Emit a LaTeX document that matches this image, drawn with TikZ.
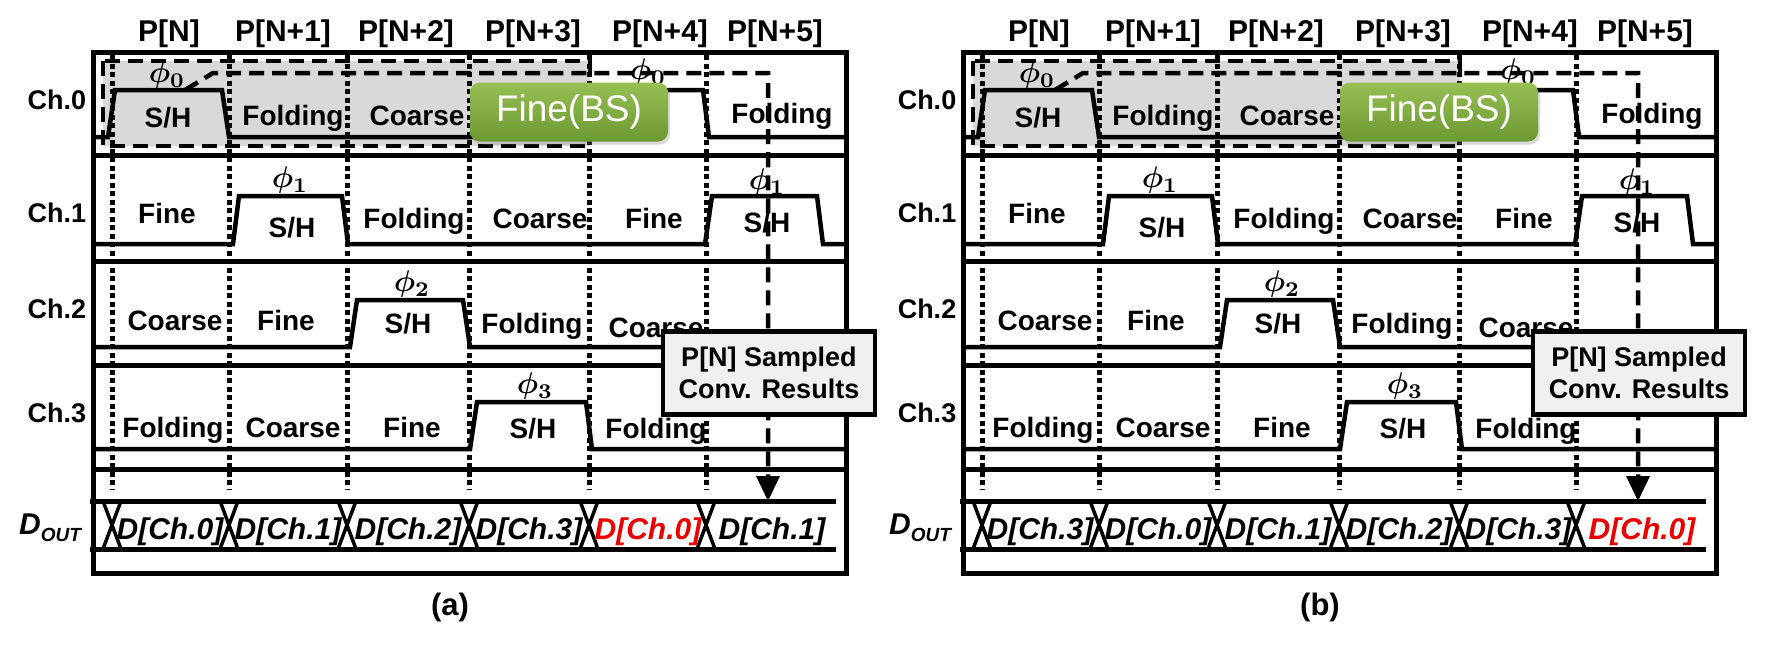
\documentclass[tikz,border=0pt]{standalone}
\usepackage{fontspec}
\setmainfont{Liberation Sans}
\usetikzlibrary{shadows}
\definecolor{shadegrey}{RGB}{217,217,217}
\definecolor{greentop}{RGB}{150,192,84}
\definecolor{greenbot}{RGB}{108,152,50}
\definecolor{boxgrey}{RGB}{240,240,240}
\definecolor{outred}{RGB}{235,0,0}
\tikzset{
  frame/.style={line width=5pt},
  sig/.style={line width=4.5pt, line join=miter},
  dotv/.style={line width=5pt, dash pattern=on 5pt off 3.5pt},
  dsh/.style={line width=4.5pt, dash pattern=on 15pt off 8pt},
  xcross/.style={line width=3.5pt},
  lbl/.style={font=\fontsize{28}{30}\selectfont\bfseries, inner sep=0pt, text height=20pt, text depth=0pt},
  chl/.style={font=\fontsize{27}{30}\selectfont\bfseries, inner sep=0pt, text height=19.5pt, text depth=0pt},
  hdr/.style={font=\fontsize{30}{32}\selectfont\bfseries, inner sep=0pt, text height=21.5pt, text depth=0pt},
  dlbl/.style={font=\fontsize{30}{32}\selectfont\bfseries\itshape, inner sep=0pt, text height=21.5pt, text depth=0pt},
  phil/.style={scale=3, inner sep=0pt, font=\boldmath},
  capl/.style={font=\fontsize{31}{33}\selectfont\bfseries, inner sep=0pt},
  finebs/.style={rounded corners=10pt, top color=greentop, bottom color=greenbot,
    draw=none, minimum width=198pt, minimum height=59pt, inner sep=0pt,
    text=white, font=\fontsize{37}{40}\selectfont,
    drop shadow={opacity=0.3, shadow xshift=2pt, shadow yshift=-3pt}},
  sampled/.style={draw, line width=4.5pt, fill=boxgrey, minimum width=212pt, minimum height=83pt,
    inner sep=0pt, align=center, font=\fontsize{27}{32}\selectfont\bfseries}
}
\newcommand\drawpanel[9]{%
\begin{scope}[xshift=#2pt, name prefix=#1-]
  % grey shaded region of the sampled period
  \fill[shadegrey] (103,61) rectangle (590,146);
  % frame and channel separators
  \draw[frame] (93,52) rectangle (846,573);
  \foreach \yy in {155,261,365,469}{\draw[frame] (93,\yy) -- (846,\yy);}
  % dotted period boundaries
  \foreach \xx in {112,229,347,469,589,706}{\draw[dotv] (\xx,55) -- (\xx,490);}
  % waveforms
  \draw[sig] (93,137) -- (108,137) -- (115,90) -- (222,90) -- (229,137) -- (589,137) -- (596,90) -- (703,90) -- (709,137) -- (846,137);
  \draw[sig] (93,244) -- (233,244) -- (239,196) -- (342,196) -- (348,244) -- (705,244) -- (712,196) -- (817,196) -- (823,244) -- (846,244);
  \draw[sig] (93,347) -- (350,347) -- (357,300) -- (463,300) -- (470,347) -- (846,347);
  \draw[sig] (93,449) -- (470,449) -- (477,402) -- (586,402) -- (592,449) -- (846,449);
  % D_OUT bus
  \draw[frame] (90,501) -- (836,501);
  \draw[frame] (90,549) -- (836,549);
  \foreach \xx in {112,229,347,469,589,706}{%
    \draw[xcross] (\xx-9,501) -- (\xx+9,549);
    \draw[xcross] (\xx+9,501) -- (\xx-9,549);}
  % headers
  \node[hdr] (h0) at (169,31) {P[N]};
  \node[hdr] (h1) at (283,31) {P[N+1]};
  \node[hdr] (h2) at (406,31) {P[N+2]};
  \node[hdr] (h3) at (533,31) {P[N+3]};
  \node[hdr] (h4) at (660,31) {P[N+4]};
  \node[hdr] (h5) at (775,31) {P[N+5]};
  % channel names
  \node[chl] (c0) at (57,100) {Ch.0};
  \node[chl] (c1) at (57,213) {Ch.1};
  \node[chl] (c2) at (57,309) {Ch.2};
  \node[chl] (c3) at (57,413) {Ch.3};
  \node[inner sep=0pt, font=\bfseries\itshape] (dout) at (50,528)
     {\fontsize{30}{32}\selectfont D\raisebox{-7pt}{\fontsize{19}{20}\selectfont OUT}};
  % Ch.0 phases
  \node[lbl] (a0) at (168,117) {S/H};
  \node[lbl] (a1) at (293,115) {Folding};
  \node[lbl] (a2) at (417,115) {Coarse};
  \node[lbl] (a4) at (645,116) {S/H};
  \node[lbl] (a5) at (782,113) {Folding};
  % Ch.1 phases
  \node[lbl] (b0) at (167,213) {Fine};
  \node[lbl] (b1) at (292,227) {S/H};
  \node[lbl] (b2) at (414,218) {Folding};
  \node[lbl] (b3) at (540,218) {Coarse};
  \node[lbl] (b4) at (654,218) {Fine};
  \node[lbl] (b5) at (767,222) {S/H};
  % Ch.2 phases
  \node[lbl] (e0) at (175,320) {Coarse};
  \node[lbl] (e1) at (286,320) {Fine};
  \node[lbl] (e2) at (408,323) {S/H};
  \node[lbl] (e3) at (532,323) {Folding};
  \node[lbl] (e4) at (656,327) {Coarse};
  % Ch.3 phases
  \node[lbl] (f0) at (173,427) {Folding};
  \node[lbl] (f1) at (293,427) {Coarse};
  \node[lbl] (f2) at (412,427) {Fine};
  \node[lbl] (f3) at (533,428) {S/H};
  \node[lbl] (f4) at (656,428) {Folding};
  % phase names
  \node[phil] (p0) at (167,75) {$\phi_0$};
  \node[phil] (p0b) at (648,72) {$\phi_0$};
  \node[phil] (p1) at (290,180) {$\phi_1$};
  \node[phil] (p1b) at (767,182) {$\phi_1$};
  \node[phil] (p2) at (412,284) {$\phi_2$};
  \node[phil] (p3) at (535,386) {$\phi_3$};
  % sampled period box and result path
  \draw[dsh] (103,61) rectangle (590,146);
  \coordinate (src) at (185,90);
  \coordinate (dst) at (768,476);
  \coordinate (tip) at (768,501);
  \draw[dsh] (src) -- (213,73) -- (768,73) -- (dst);
  \fill (dst) ++(-12,0) -- ++(24,0) -- (tip) -- cycle;
  % highlighted boxes
  \node[finebs] (fbs) at (569,112) {Fine(BS)};
  \node[sampled] (smp) at (769,373) {P[N] Sampled\\Conv. Results};
  % output data
  \node[dlbl] (d0) at (170,529) {#3};
  \node[dlbl] (d1) at (288,529) {#4};
  \node[dlbl] (d2) at (408,529) {#5};
  \node[dlbl] (d3) at (529,529) {#6};
  \node[dlbl] (d4) at (648,529) {#7};
  \node[dlbl] (d5) at (772,529) {#8};
  \node[capl] (cap) at (450,607) {#9};
\end{scope}}
\begin{document}
\begin{tikzpicture}[x=1pt, y=-1pt]
  \useasboundingbox (0,0) rectangle (1775,649);
  \drawpanel{a}{0}{D[Ch.0]}{D[Ch.1]}{D[Ch.2]}{D[Ch.3]}{\textcolor{outred}{D[Ch.0]}}{D[Ch.1]}{(a)}
  \drawpanel{b}{870}{D[Ch.3]}{D[Ch.0]}{D[Ch.1]}{D[Ch.2]}{D[Ch.3]}{\textcolor{outred}{D[Ch.0]}}{(b)}
\end{tikzpicture}
\end{document}
